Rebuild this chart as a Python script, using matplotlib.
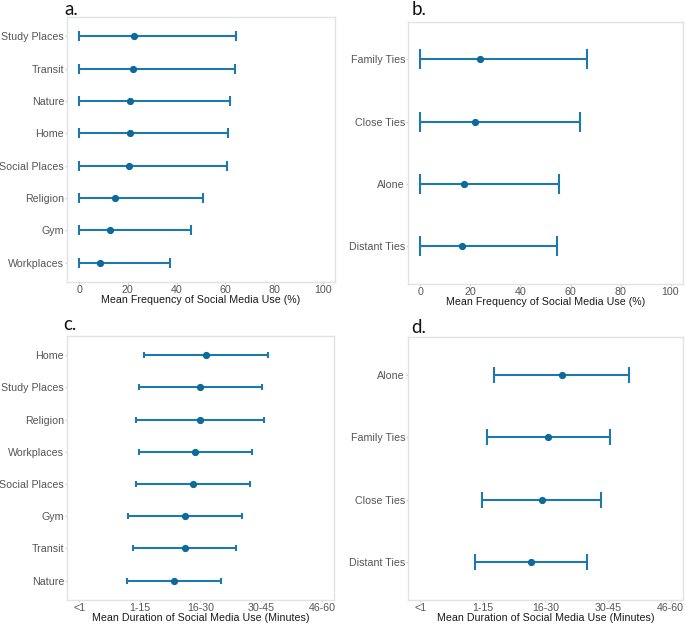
import matplotlib
matplotlib.use("Agg")
import matplotlib.pyplot as plt

plt.rcParams['font.family'] = ['Liberation Sans', 'DejaVu Sans']

# panel a: frequency by place (%)
places_freq = ["Workplaces", "Gym", "Religion", "Social Places", "Home", "Nature", "Transit", "Study Places"]
freq_place_mean = [8.6, 12.6, 14.9, 20.5, 20.8, 21.0, 22.3, 22.4]
freq_place_low = [0, 0, 0, 0, 0, 0, 0, 0]
freq_place_high = [37.2, 45.8, 50.7, 60.9, 61.3, 61.9, 64.2, 64.5]

# panel b: frequency by company (%)
company_freq = ["Distant Ties", "Alone", "Close Ties", "Family Ties"]
freq_comp_mean = [16.8, 17.3, 22.0, 23.7]
freq_comp_low = [0, 0, 0, 0]
freq_comp_high = [54.4, 55.3, 63.7, 66.4]

# panel c: duration by place (1 = "<1" ... 5 = "46-60")
places_dur = ["Nature", "Transit", "Gym", "Social Places", "Workplaces", "Religion", "Study Places", "Home"]
dur_place_mean = [2.56, 2.74, 2.75, 2.87, 2.91, 2.99, 3.00, 3.09]
dur_place_low = [1.79, 1.89, 1.80, 1.94, 1.98, 1.94, 1.99, 2.07]
dur_place_high = [3.33, 3.59, 3.69, 3.81, 3.85, 4.05, 4.01, 4.12]

# panel d: duration by company
company_dur = ["Distant Ties", "Close Ties", "Family Ties", "Alone"]
dur_comp_mean = [2.77, 2.94, 3.04, 3.26]
dur_comp_low = [1.87, 1.99, 2.06, 2.17]
dur_comp_high = [3.66, 3.89, 4.03, 4.33]

dur_ticks = [1, 2, 3, 4, 5]
dur_labels = ["<1", "1-15", "16-30", "30-45", "46-60"]

line_col = "#1f78ad"
dot_col = "#0d6a9c"


def panel(ax, cats, mean, low, high, cap, letter, lx, ly):
    ypos = list(range(len(cats)))
    xerr = [[m - l for m, l in zip(mean, low)], [h - m for m, h in zip(mean, high)]]
    ax.errorbar(mean, ypos, xerr=xerr, fmt="none", ecolor=line_col,
                elinewidth=1.5, capsize=cap, capthick=1.5)
    ax.plot(mean, ypos, "o", color=dot_col, markersize=4.2)
    ax.set_yticks(ypos)
    ax.set_yticklabels(cats)
    ax.set_ylim(-0.6, len(cats) - 0.4)
    for s in ax.spines.values():
        s.set_color("#e2e2e2")
        s.set_linewidth(1.0)
    ax.tick_params(colors="#d0d0d0", labelcolor="#555555", labelsize=7.7, length=1.5, width=0.8, pad=0.6)
    ax.text(lx, 1 + ly, letter, transform=ax.transAxes, fontsize=13.5,
            family=["Lato", "DejaVu Sans"], va="baseline", ha="left", color="#111111")


fig = plt.figure(figsize=(6.85, 6.24), dpi=100)
ax_a = fig.add_axes([0.0978, 0.548, 0.391, 0.425])
ax_b = fig.add_axes([0.5956, 0.545, 0.4015, 0.42])
ax_c = fig.add_axes([0.0978, 0.0385, 0.3898, 0.4231])
ax_d = fig.add_axes([0.5956, 0.0385, 0.4015, 0.4215])

panel(ax_a, places_freq, freq_place_mean, freq_place_low, freq_place_high, 3.3, "a.", -0.008, 0.008)
panel(ax_b, company_freq, freq_comp_mean, freq_comp_low, freq_comp_high, 7.0, "b.", 0.013, 0.027)
panel(ax_c, places_dur, dur_place_mean, dur_place_low, dur_place_high, 2.3, "c.", -0.014, 0.023)
panel(ax_d, company_dur, dur_comp_mean, dur_comp_low, dur_comp_high, 6.0, "d.", 0.013, 0.016)

for ax in (ax_a, ax_b):
    ax.set_xlim(-5, 105)
    ax.set_xticks([0, 20, 40, 60, 80, 100])
    ax.set_xlabel("Mean Frequency of Social Media Use (%)", fontsize=7.7, color="#1a1a1a", labelpad=0)

for ax in (ax_c, ax_d):
    ax.set_xlim(0.8, 5.2)
    ax.set_xticks(dur_ticks)
    ax.set_xticklabels(dur_labels)
    ax.set_xlabel("Mean Duration of Social Media Use (Minutes)", fontsize=7.7, color="#1a1a1a", labelpad=0)

fig.savefig("out.png", dpi=100)
